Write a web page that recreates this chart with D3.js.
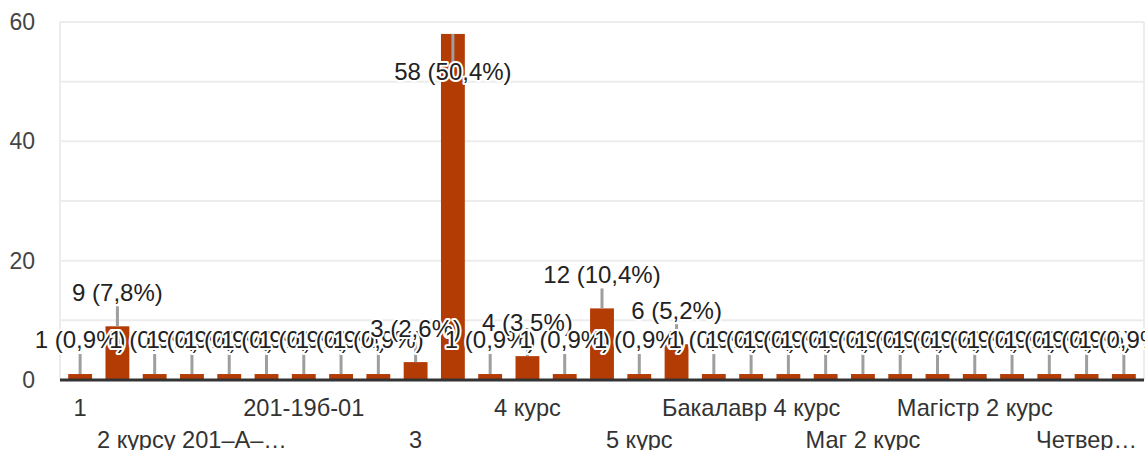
<!DOCTYPE html>
<html>
<head>
<meta charset="utf-8">
<script src="https://cdn.jsdelivr.net/npm/d3@7"></script>
<style>
  body { margin: 0; background: #fff; }
  svg { display: block; font-family: 'Liberation Sans', Arial, sans-serif; }
</style>
</head>
<body>
<svg id="chart"></svg>
<script>
const categories = [
    '1', '2', '2 курс', '2 курсу 201–А–…', '2 курсу 201–Б', '201', '201-19б-01', '201-А', '201А',
    '3', '3 курс', '3 курсу', '4 курс', '4 курсу', '5', '5 курс', '5 курсу', 'Бакалавр',
    'Бакалавр 4 курс', 'Бакалавр 5 курс', 'Маг', 'Маг 2 курс', 'Магістр', 'Магістр 1 курс',
    'Магістр 2 курс', 'Магістратура', 'Перший курс', 'Четвер…', 'Четвертий курс (3)'
]
const counts = [1, 9, 1, 1, 1, 1, 1, 1, 1, 3, 58, 1, 4, 1, 12, 1, 6, 1, 1, 1, 1, 1, 1, 1, 1, 1, 1, 1, 1]
const yTicks = [0, 20, 40, 60]
const yGrid = [0, 10, 20, 30, 40, 50, 60]

const width = 1145
const height = 450
const margin = { top: 22, right: 1, bottom: 70, left: 60 }
const barColor = '#b33b04'
const fontFamily = "'Liberation Sans', Arial, sans-serif"
const total = d3.sum(counts)

const svg = d3.select('#chart')
    .attr('width', width)
    .attr('height', height)

const x = d3.scaleBand()
    .domain(categories)
    .range([margin.left, width - margin.right])
    .paddingInner(0.36)
    .paddingOuter(0.22)

const y = d3.scaleLinear()
    .domain([0, 60])
    .range([height - margin.bottom, margin.top])

// grid
svg.append('g')
    .selectAll('line')
    .data(yGrid.filter(d => d > 0))
    .join('line')
    .attr('x1', margin.left)
    .attr('x2', width - margin.right)
    .attr('y1', d => y(d))
    .attr('y2', d => y(d))
    .attr('stroke', '#ececec')
    .attr('stroke-width', 2)

svg.append('line')
    .attr('x1', margin.left).attr('x2', margin.left)
    .attr('y1', y(60)).attr('y2', y(0))
    .attr('stroke', '#ececec').attr('stroke-width', 2)
svg.append('line')
    .attr('x1', width - margin.right).attr('x2', width - margin.right)
    .attr('y1', y(60)).attr('y2', y(0))
    .attr('stroke', '#ececec').attr('stroke-width', 2)

// y axis labels
const yAxis = d3.axisLeft(y).tickValues(yTicks).tickSize(0).tickPadding(25)
svg.append('g')
    .attr('transform', `translate(${margin.left}, 0)`)
    .call(yAxis)
    .call(g => g.select('.domain').remove())
    .selectAll('text')
    .attr('font-size', 23)
    .attr('font-family', fontFamily)
    .attr('fill', '#444')

// bars
svg.append('g')
    .selectAll('rect')
    .data(counts)
    .join('rect')
    .attr('x', (d, i) => x(categories[i]))
    .attr('width', x.bandwidth())
    .attr('y', d => y(d))
    .attr('height', d => y(0) - y(d))
    .attr('fill', barColor)

// baseline
svg.append('line')
    .attr('x1', margin.left).attr('x2', width - margin.right)
    .attr('y1', y(0)).attr('y2', y(0))
    .attr('stroke', '#333').attr('stroke-width', 3)

// x axis labels, every third category in two staggered rows
const xAxis = d3.axisBottom(x)
    .tickValues(categories.filter((d, i) => i % 3 === 0))
    .tickSize(0)
svg.append('g')
    .attr('transform', `translate(0, ${y(0)})`)
    .call(xAxis)
    .call(g => g.select('.domain').remove())
    .selectAll('text')
    .attr('font-size', 23.6)
    .attr('font-family', fontFamily)
    .attr('fill', '#333')
    .attr('dy', null)
    .attr('y', (d, i) => i % 2 === 0 ? 36 : 68)

// data labels with leader lines
const fmt = d => `${d} (${(d / total * 100).toFixed(1).replace('.', ',')}%)`
const inside = d => y(d) - 40 < margin.top

const labels = svg.append('g')
counts.forEach((d, i) => {
    const cx = x(categories[i]) + x.bandwidth() / 2
    const top = y(d)
    const lineEnd = inside(d) ? top + 30 : top - 20
    labels.append('line')
        .attr('x1', cx).attr('x2', cx)
        .attr('y1', top).attr('y2', lineEnd)
        .attr('stroke', '#9e9e9e').attr('stroke-width', 3)
})
counts.forEach((d, i) => {
    const cx = x(categories[i]) + x.bandwidth() / 2
    const top = y(d)
    const textY = inside(d) ? top + 38 : top - 34
    labels.append('text')
        .attr('x', cx)
        .attr('y', textY)
        .attr('dy', '0.35em')
        .attr('text-anchor', 'middle')
        .attr('font-size', 24)
        .attr('font-family', fontFamily)
        .attr('fill', '#222')
        .attr('stroke', '#fff')
        .attr('stroke-width', 4)
        .attr('stroke-linejoin', 'round')
        .attr('paint-order', 'stroke')
        .text(fmt(d))
})
</script>
</body>
</html>
